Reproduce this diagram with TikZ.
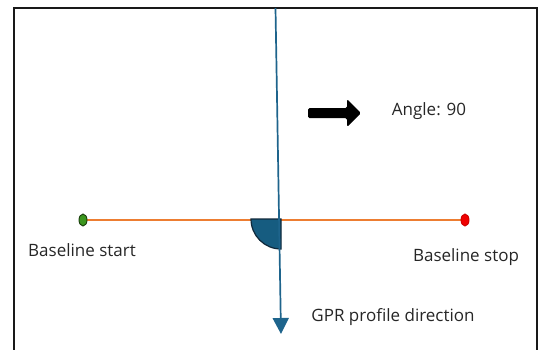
\documentclass[tikz,border=0pt]{standalone}
\usepackage{fontspec}
\setmainfont{Open Sans}
\usetikzlibrary{arrows.meta,shapes.geometric}
\definecolor{gprblue}{RGB}{30,100,140}
\definecolor{wedgefill}{RGB}{22,92,128}
\definecolor{wedgeline}{RGB}{15,40,58}
\definecolor{baseorange}{RGB}{237,125,49}
\definecolor{startgreen}{RGB}{60,150,30}
\definecolor{stopred}{RGB}{240,0,0}
\tikzset{
  lbl/.style={inner sep=0pt, font=\fontsize{17}{19}\selectfont, text=black!85},
  dotstyle/.style={ellipse, minimum width=8pt, minimum height=12pt, inner sep=0pt, line width=0.9pt},
}
\begin{document}
\begin{tikzpicture}[x=1pt,y=-1pt]
\useasboundingbox (0,0) rectangle (541,349);
% frame
\draw[line width=1.8pt, black!90] (14,360) -- (14,8) -- (537,8) -- (537,360);
% baseline
\coordinate (bs) at (83,220);
\coordinate (be) at (465,220);
\draw[baseorange, line width=1.7pt] (bs) -- (be);
% wedge
\coordinate (wc) at (281,219);
\draw[wedgeline, fill=wedgefill, line width=1.2pt] (wc) -- ++(-30,0) arc[start angle=180, end angle=90, radius=30] -- cycle;
% GPR direction line
\coordinate (gtop) at (275.5,8);
\coordinate (gtip) at (281,334);
\draw[gprblue, line width=1.7pt, -{Triangle[length=16pt,width=16pt]}] (gtop) -- (gtip);
% dots
\node[dotstyle, draw=black!60!startgreen, fill=startgreen] (sdot) at (bs) {};
\node[dotstyle, draw=stopred!85!black, fill=stopred] (edot) at (be) {};
% labels
\node[lbl] (lstart) at (82,250) {Baseline start};
\node[lbl] (lstop) at (466,257) {Baseline stop};
\node[lbl] (lgpr) at (393,317) {GPR profile direction};
\node[lbl] (lang) at (429,111) {Angle: 90};
% black arrow
\fill[black, rounded corners=1.5pt] (308,108) -- (347,108) -- (347,99) -- (361,113) -- (347,127) -- (347,118) -- (308,118) -- cycle;
\end{tikzpicture}
\end{document}
